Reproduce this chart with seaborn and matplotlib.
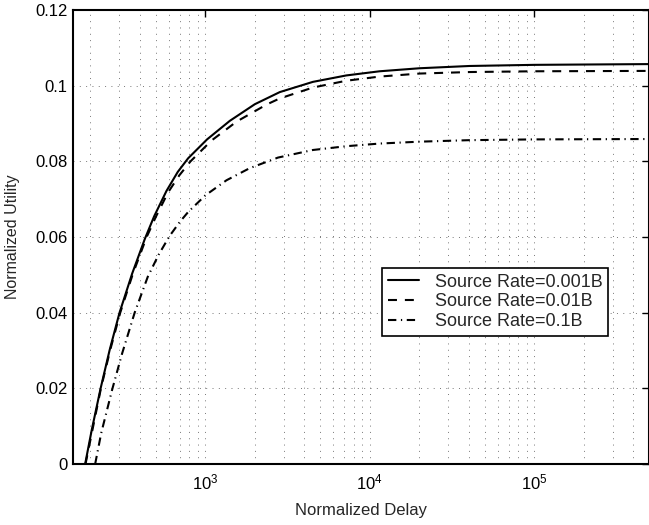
import numpy as np
import pandas as pd
import matplotlib
matplotlib.use("Agg")
import matplotlib.pyplot as plt
import seaborn as sns
from matplotlib.ticker import FuncFormatter, NullFormatter, LogLocator

# values
delay_001 = [186, 204, 231, 262, 301, 359, 429, 489, 581, 680, 786, 1025, 1409, 2000, 2836,
             4506, 7190, 11460, 20050, 40360, 100000, 500000]
util_001 = [0, 0.009, 0.02, 0.0301, 0.04, 0.0503, 0.0595, 0.0655, 0.0722, 0.0772, 0.0808, 0.0858,
            0.0907, 0.0951, 0.0983, 0.1010, 0.1027, 0.1038, 0.1046, 0.1052, 0.1055, 0.1057]

delay_01 = [187, 206, 232, 264, 304, 363, 440, 500, 594, 695, 813, 1091, 1549, 2355, 2825,
            4506, 7190, 11460, 20050, 40360, 100000, 500000]
util_01 = [0, 0.009, 0.02, 0.0301, 0.04, 0.0503, 0.06, 0.0653, 0.0718, 0.0763, 0.0800, 0.0855,
           0.0905, 0.0950, 0.0966, 0.0995, 0.1013, 0.1024, 0.1032, 0.1036, 0.1038, 0.1039]

delay_1 = [214, 233, 272, 312, 372, 447, 520, 607, 700, 786, 1000, 1345, 1862, 2767,
           4506, 7190, 11460, 20050, 40360, 100000, 500000]
util_1 = [0, 0.0082, 0.0198, 0.0292, 0.04, 0.0495, 0.0553, 0.0603, 0.0640, 0.0666, 0.0710, 0.0750,
          0.0782, 0.0810, 0.0830, 0.0840, 0.0847, 0.0852, 0.0856, 0.0858, 0.0859]

labels = ["Source Rate=0.001B", "Source Rate=0.01B", "Source Rate=0.1B"]

sns.set_style("white")
plt.rcParams['font.family'] = ['Liberation Sans', 'DejaVu Sans']
plt.rcParams['mathtext.fontset'] = 'custom'
plt.rcParams['mathtext.rm'] = 'Liberation Sans'

fig = plt.figure(figsize=(6.49, 5.25), dpi=100)
ax = fig.add_axes([0.1125, 0.116, 0.888, 0.865])

styles = ["-", (0, (4.3, 3.8)), (0, (4.0, 2.2, 0.6, 2.2))]
series = [(delay_001, util_001), (delay_01, util_01), (delay_1, util_1)]
for (xs, ys), lab, ls in zip(series, labels, styles):
    df = pd.DataFrame({"delay": xs, "utility": ys})
    sns.lineplot(data=df, x="delay", y="utility", ax=ax, color="black",
                 linewidth=1.5, linestyle=ls, label=lab)

ax.set_xscale("log")
ax.set_xlim(157, 5e5)
ax.set_ylim(0, 0.12)
ax.set_yticks([0, 0.02, 0.04, 0.06, 0.08, 0.1, 0.12])
ax.yaxis.set_major_formatter(FuncFormatter(lambda v, p: "%g" % v))
ax.xaxis.set_major_locator(LogLocator(base=10, numticks=10))
ax.xaxis.set_minor_locator(LogLocator(base=10, subs=np.arange(2, 10), numticks=20))
ax.xaxis.set_minor_formatter(NullFormatter())

ax.grid(True, which="major", axis="both", color="#777777", linestyle=(0, (1, 5.5)), linewidth=0.7)
ax.grid(True, which="minor", axis="x", color="#777777", linestyle=(0, (1, 5.5)), linewidth=0.7)

ax.tick_params(which="both", direction="in", top=True, right=True, labelsize=12, colors="black")
ax.tick_params(which="major", length=5, width=1)
ax.tick_params(axis="x", which="major", pad=6)
ax.tick_params(axis="y", which="major", pad=4)
ax.tick_params(which="minor", length=0)
for s in ax.spines.values():
    s.set_color("black")
    s.set_linewidth(1.5)

ax.set_xlabel("Normalized Delay", fontsize=12, labelpad=8)
ax.set_ylabel("Normalized Utility", fontsize=11.5, labelpad=11)

leg = ax.legend(loc="upper left", bbox_to_anchor=(0.537, 0.431), fontsize=13,
                frameon=True, fancybox=False, framealpha=1, edgecolor="black",
                borderpad=0.3, labelspacing=0.15, handlelength=1.7, handletextpad=0.9,
                borderaxespad=0)
leg.get_frame().set_linewidth(1.2)

fig.savefig("out.png", dpi=100)
